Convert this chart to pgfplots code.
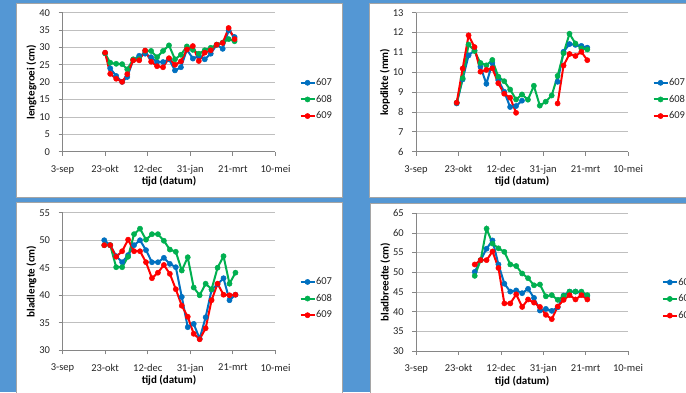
\documentclass[border=0pt]{standalone}
\usepackage{pgfplots}
\pgfplotsset{compat=1.18}
\usepackage{fontspec}
\setmainfont{Carlito}[BoldFont={Carlito Bold}]

\definecolor{bg}{RGB}{84,151,212}
\definecolor{c607}{RGB}{0,112,192}
\definecolor{c608}{RGB}{0,176,80}
\definecolor{c609}{RGB}{255,0,0}
\definecolor{gridc}{RGB}{191,191,191}
\definecolor{axisc}{RGB}{134,134,134}
\definecolor{panelborder}{RGB}{165,165,165}

\newcommand{\titlefont}{\fontsize{11}{13}\selectfont\bfseries}

\pgfplotsset{
  panel/.style={
    scale only axis,
    anchor=south west,
    xmin=0, xmax=250,
    xtick={0,50,100,150,200,250},
    xticklabels={3-sep,23-okt,12-dec,31-jan,21-mrt,10-mei},
    axis lines=left,
    axis line style={draw=axisc, line width=0.8pt, -},
    tick align=outside,
    major tick length=4pt,
    tick style={draw=axisc, line width=0.8pt},
    ymajorgrids,
    grid style={draw=gridc, line width=0.8pt},
    tick label style={font=\fontsize{10.5}{12}\selectfont, text=black!85},
    /pgf/number format/assume math mode=true,
    xticklabel style={yshift=-6pt},
    yticklabel style={xshift=-5pt},
    xlabel={tijd (datum)},
    every axis x label/.style={at={(rel axis cs:0.5,0)}, anchor=center, yshift=-30pt, font=\titlefont, text=black},
    every axis y label/.style={at={(rel axis cs:0,0.5)}, xshift=-31pt, rotate=90, anchor=center, font=\titlefont, text=black},
    unbounded coords=jump,
    legend cell align=left,
    legend image code/.code={\draw[mark repeat=2,mark phase=2,#1] plot coordinates {(0pt,0pt) (7pt,0pt) (14pt,0pt)};},
    legend style={anchor=west, draw=none, fill=none, inner sep=0pt,
      font=\fontsize{10.5}{12}\selectfont, row sep=7pt,
      nodes={inner sep=0.5pt, text=black!85}},
  },
  s607/.style={color=c607, line width=2pt, mark=*, mark size=2.6pt, mark options={solid, line width=0.5pt}},
  s608/.style={color=c608, line width=2pt, mark=*, mark size=2.6pt, mark options={solid, line width=0.5pt}},
  s609/.style={color=c609, line width=2pt, mark=*, mark size=2.6pt, mark options={solid, line width=0.5pt}},
}

\begin{document}
\begin{tikzpicture}
\path[use as bounding box] (0pt,0pt) rectangle (686pt,392pt);
\clip (0pt,0pt) rectangle (686pt,392pt);
\fill[bg] (0pt,0pt) rectangle (686pt,392pt);
% chart panels
\filldraw[fill=white, draw=panelborder, line width=0.8pt] (16pt,194.7pt) rectangle (342pt,389pt);
\filldraw[fill=white, draw=panelborder, line width=0.8pt] (369pt,194.7pt) rectangle (700pt,389pt);
\filldraw[fill=white, draw=panelborder, line width=0.8pt] (16pt,-8pt) rectangle (342pt,190pt);
\filldraw[fill=white, draw=panelborder, line width=0.8pt] (370pt,-8pt) rectangle (700pt,189pt);

% lengtegroei
\begin{axis}[panel, at={(62.5pt,240.3pt)}, width=213pt, height=139pt,
  ymin=0, ymax=40, ytick={0,5,...,40}, ylabel={lengtegroei (cm)},
  legend style={at={(rel axis cs:1.112,0.376)}}]
\addplot[s607] coordinates {(50,28.4) (56,24.0) (63,21.8) (70,20.1) (76,21.5) (83,26.4) (90,27.6) (97,28.2) (104,27.2) (111,25.8) (118,25.8) (125,26.6) (132,23.4) (139,24.3) (146,29.4) (153,26.8) (160,27.5) (167,26.6) (174,28.2) (181,30.8) (188,29.6) (195,34.9) (202,33.0)};
\addplot[s608] coordinates {(50,28.3) (56,25.6) (63,25.3) (70,25.2) (76,23.7) (83,26.6) (90,26.7) (97,29.0) (104,29.0) (111,27.2) (118,29.0) (125,30.6) (132,26.6) (139,27.9) (146,30.3) (153,29.3) (160,28.2) (167,29.2) (174,29.9) (181,30.8) (188,31.4) (195,32.4) (202,31.8)};
\addplot[s609] coordinates {(50,28.5) (56,22.4) (63,21.0) (70,20.1) (76,22.3) (83,26.3) (90,26.3) (97,29.1) (104,25.9) (111,24.6) (118,24.3) (125,26.9) (132,25.0) (139,26.0) (146,29.4) (153,30.4) (160,26.1) (167,28.5) (174,29.2) (181,30.8) (188,31.3) (195,35.6) (202,32.4)};
\legend{607,608,609}
\end{axis}

% kopdikte
\begin{axis}[panel, at={(416pt,240.3pt)}, width=212pt, height=139pt,
  ymin=6, ymax=13, ytick={6,7,...,13}, ylabel={kopdikte (mm)},
  legend style={at={(rel axis cs:1.115,0.376)}}]
\addplot[s607] coordinates {(48,8.43) (55,9.64) (62,10.85) (69,11.10) (76,10.28) (83,9.42) (90,10.47) (97,9.61) (104,9.02) (111,8.25) (118,8.30) (125,8.57) (130,nan) (167,9.52) (174,11.03) (181,11.42) (188,11.38) (195,11.33) (202,11.24)};
\addplot[s608] coordinates {(48,8.47) (55,9.70) (62,11.40) (69,11.07) (76,10.47) (83,10.35) (90,10.62) (97,9.78) (104,9.55) (111,9.13) (118,8.63) (125,8.88) (132,8.62) (139,9.32) (146,8.32) (153,8.52) (160,8.83) (167,9.82) (174,10.96) (181,11.94) (188,11.45) (195,11.20) (202,11.15)};
\addplot[s609] coordinates {(48,8.47) (55,10.19) (62,11.86) (69,11.27) (76,10.03) (83,10.12) (90,10.20) (97,9.45) (104,8.92) (111,8.72) (118,7.96) (125,nan) (167,8.43) (174,10.34) (181,10.92) (188,10.82) (195,11.03) (202,10.61)};
\legend{607,608,609}
\end{axis}

% bladlengte
\begin{axis}[panel, at={(62.5pt,41.7pt)}, width=213pt, height=137.6pt,
  ymin=30, ymax=55, ytick={30,35,...,55}, ylabel={bladlengte (cm)},
  legend style={at={(rel axis cs:1.112,0.376)}}]
\addplot[s607] coordinates {(49,50.0) (56,49.1) (63,47.1) (70,46.0) (77,47.3) (84,49.1) (91,50.0) (98,48.2) (105,46.0) (112,46.0) (119,46.8) (126,45.7) (133,45.1) (140,39.7) (147,34.2) (154,34.8) (161,32.1) (168,36.0) (175,41.0) (182,42.0) (189,43.1) (196,39.1) (203,40.1)};
\addplot[s608] coordinates {(49,49.1) (56,49.1) (63,45.1) (70,45.1) (77,47.0) (84,51.1) (91,52.1) (98,50.1) (105,51.1) (112,51.1) (119,49.9) (126,48.3) (133,47.9) (140,44.5) (147,46.9) (154,41.4) (161,40.0) (168,42.1) (175,41.1) (182,45.0) (189,47.1) (196,42.1) (203,44.1)};
\addplot[s609] coordinates {(49,49.1) (56,49.1) (63,47.0) (70,48.0) (77,50.1) (84,48.0) (91,48.0) (98,46.0) (105,43.1) (112,44.1) (119,45.5) (126,43.9) (133,41.1) (140,38.1) (147,36.1) (154,33.0) (161,32.0) (168,34.0) (175,39.1) (182,42.1) (189,40.1) (196,40.0) (203,40.1)};
\legend{607,608,609}
\end{axis}

% bladbreedte
\begin{axis}[panel, at={(416.3pt,41pt)}, width=211.7pt, height=137.7pt,
  ymin=30, ymax=65, ytick={30,35,...,65}, ylabel={bladbreedte (cm)},
  legend style={at={(rel axis cs:1.159,0.378)}}]
\addplot[s607] coordinates {(69,50.1) (76,53.1) (83,56.0) (90,58.1) (97,52.0) (104,47.1) (111,45.1) (118,45.4) (125,44.7) (132,45.8) (139,43.5) (146,40.3) (153,40.7) (160,40.2) (167,41.1) (174,44.1) (181,45.1) (188,45.1) (195,44.8) (202,44.0)};
\addplot[s608] coordinates {(69,49.1) (76,53.1) (83,61.1) (90,57.3) (97,56.1) (104,55.2) (111,52.0) (118,51.6) (125,49.7) (132,48.5) (139,46.7) (146,46.9) (153,43.9) (160,44.2) (167,43.0) (174,44.0) (181,45.1) (188,45.1) (195,45.1) (202,44.2)};
\addplot[s609] coordinates {(69,52.0) (76,53.1) (83,53.1) (90,55.3) (97,51.1) (104,42.1) (111,42.1) (118,44.4) (125,41.2) (132,43.1) (139,42.3) (146,41.2) (153,39.2) (160,38.1) (167,41.3) (174,43.0) (181,44.2) (188,43.1) (195,44.2) (202,43.1)};
\legend{607,608,609}
\end{axis}
\end{tikzpicture}
\end{document}
